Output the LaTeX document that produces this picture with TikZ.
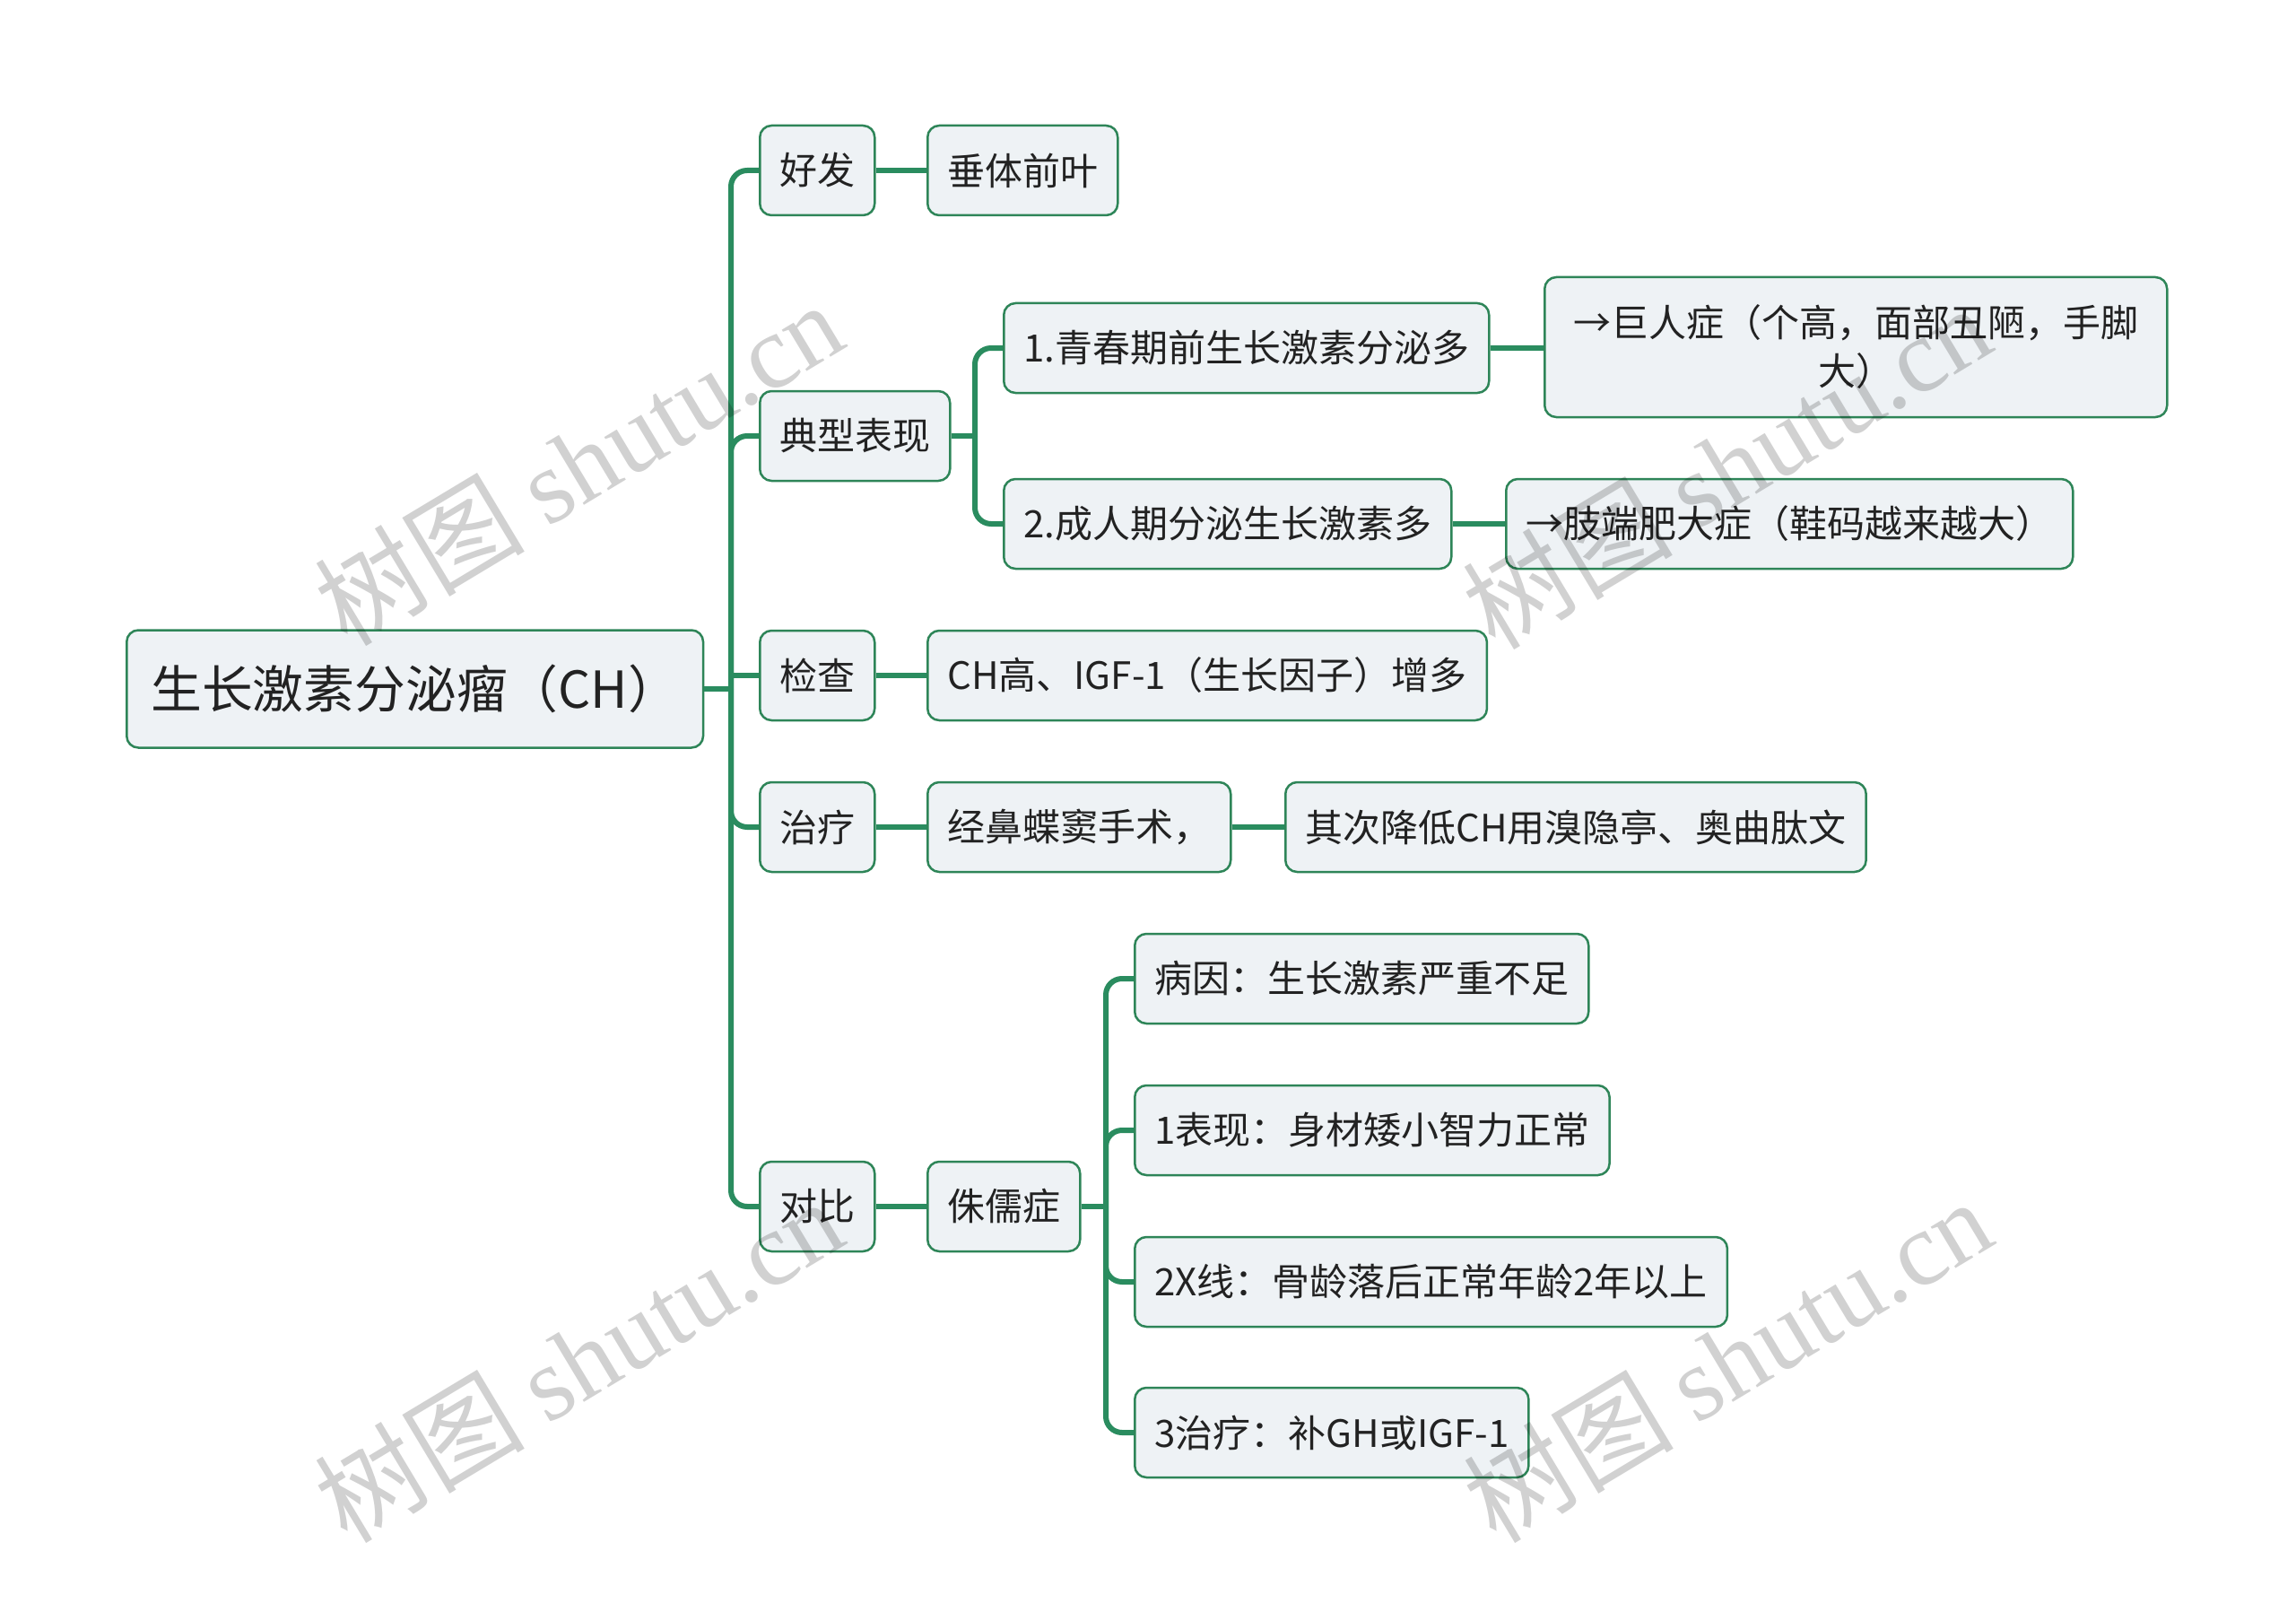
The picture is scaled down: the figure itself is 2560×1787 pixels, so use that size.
\documentclass[tikz,border=0pt]{standalone}
\usepackage{fontspec}
\setmainfont{Noto Sans CJK SC}
\newfontfamily\wmfont{Liberation Serif}
\definecolor{linec}{HTML}{2A8C5F}
\definecolor{bordc}{HTML}{2E8558}
\definecolor{fillc}{HTML}{EEF2F5}
\definecolor{txtc}{HTML}{222222}
\begin{document}
\begin{tikzpicture}[x=1pt,y=-1pt,
  box/.style={draw=bordc, fill=fillc, line width=2.5pt, rounded corners=13pt, text=txtc, anchor=west,
    inner xsep=22pt, inner ysep=0pt, minimum height=100pt, font=\fontsize{42}{54}\selectfont},
  conn/.style={draw=linec, line width=6pt, rounded corners=18pt},
  wm/.style={text=black, opacity=0.18, font=\fontsize{117}{117}\selectfont, rotate=31},
]
\useasboundingbox (0,0) rectangle (2560,1787);
\fill[white] (0,0) rectangle (2560,1787);

% root
\node[box, font=\fontsize{56.8}{64}\selectfont, inner xsep=27pt, minimum height=131pt] (root) at (140,768) {生长激素分泌瘤（CH）};

% level 1
\node[box] (h1) at (846,190) {好发};
\node[box] (h2) at (846,486) {典型表现};
\node[box] (h3) at (846,753) {检查};
\node[box] (h4) at (846,922) {治疗};
\node[box] (h5) at (846,1345) {对比};

% level 2
\node[box] (a1) at (1033,190) {垂体前叶};
\node[box] (c1) at (1118,388) {1.青春期前生长激素分泌多};
\node[box] (c2) at (1118,584) {2.成人期分泌生长激素多};
\node[box] (e1) at (1033,753) {CH高、IGF-1（生长因子）增多};
\node[box] (f1) at (1033,922) {经鼻蝶窦手术，};
\node[box] (d0) at (1033,1345) {侏儒症};

% level 3
\node[box, align=center, inner xsep=32pt, minimum height=156pt] (g1) at (1721,387) {→巨人症（个高，面部丑陋，手脚\\大）};
\node[box] (g2) at (1678,584) {→肢端肥大症（鞋码越来越大）};
\node[box] (f2) at (1432,922) {其次降低CH用溴隐亭、奥曲肽文};
\node[box] (d1) at (1264,1091) {病因：生长激素严重不足};
\node[box] (d2) at (1264,1260) {1表现：身材矮小智力正常};
\node[box] (d3) at (1264,1429) {2X线：骨龄落后正常年龄2年以上};
\node[box] (d4) at (1264,1597) {3治疗：补GH或IGF-1};

% trunk from root
\coordinate (t1) at (815,768);
\draw[conn] (root.east) -- (t1);
\draw[conn] (t1) |- (h1.west);
\draw[conn] (t1) |- (h2.west);
\draw[conn] (t1 |- h3.west) -- (h3.west);
\draw[conn] (t1) |- (h4.west);
\draw[conn] (t1) |- (h5.west);

% simple links
\draw[conn] (h1.east) -- (a1.west);
\draw[conn] (h3.east) -- (e1.west);
\draw[conn] (h4.east) -- (f1.west);
\draw[conn] (f1.east) -- (f2.west);
\draw[conn] (h5.east) -- (d0.west);
\draw[conn] (c1.east) -- (c1.east -| g1.west);
\draw[conn] (c2.east) -- (g2.west);

% branch 典型表现
\coordinate (t2) at (1087,486);
\draw[conn] (h2.east) -- (t2);
\draw[conn] (t2) |- (c1.west);
\draw[conn] (t2) |- (c2.west);

% branch 侏儒症
\coordinate (t3) at (1233,1345);
\draw[conn] (d0.east) -- (t3);
\draw[conn] (t3) |- (d1.west);
\draw[conn] (t3) |- (d2.west);
\draw[conn] (t3) |- (d3.west);
\draw[conn] (t3) |- (d4.west);

% watermarks
\node[wm] (w1) at (645,516) {树图 {\wmfont shutu.cn}};
\node[wm] (w2) at (1925,520) {树图 {\wmfont shutu.cn}};
\node[wm] (w3) at (645,1516) {树图 {\wmfont shutu.cn}};
\node[wm] (w4) at (1926,1516) {树图 {\wmfont shutu.cn}};
\end{tikzpicture}
\end{document}
